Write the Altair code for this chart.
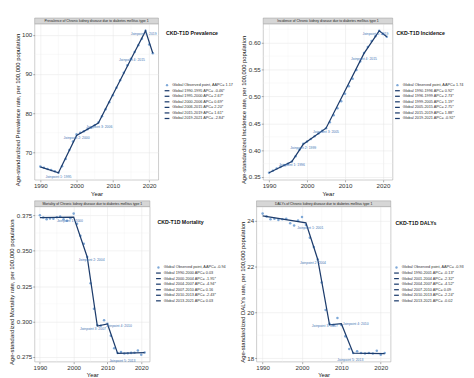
import altair as alt
import pandas as pd

FONT = "Liberation Sans"
LINE = "#1d3c6c"
PT = "#7fa9d8"
LBL = "#4677b5"

years = list(range(1990, 2022))
x_ticks = [1990, 2000, 2010, 2020]
x_minor = [1995, 2005, 2015]

# ---------------- Prevalence ----------------
prev_obs = [66.4, 66.1, 65.8, 65.5, 65.2, 64.8, 66.5, 68.3, 70.6, 72.8,
            74.6, 75.0, 75.4, 75.9, 76.3, 76.9, 77.6, 79.2, 81.0, 82.8,
            84.6, 86.5, 88.4, 90.3, 92.2, 93.9, 95.6, 97.3, 99.0, 101.0,
            97.5, 95.3]
prev_fit_years = [1990, 1995, 2000, 2006, 2015, 2019, 2021]
prev_fit = [66.3, 64.8, 74.3, 77.5, 93.8, 101.0, 95.3]
prev_ticks = [70, 80, 90, 100]
prev_minor = [65, 75, 85, 95]
prev_legend = ["Global Observed point, AAPC= 1.17",
               "Global 1990-1995 APC= -0.46*",
               "Global 1995-2000 APC= 2.67*",
               "Global 2000-2006 APC= 0.69*",
               "Global 2006-2015 APC= 2.20*",
               "Global 2015-2019 APC= 1.61*",
               "Global 2019-2021 APC= -2.84*"]

# ---------------- Incidence ----------------
inc_obs = [0.358, 0.362, 0.366, 0.369, 0.372, 0.375, 0.379, 0.389, 0.401, 0.412,
           0.416, 0.421, 0.426, 0.431, 0.436, 0.441, 0.452, 0.465, 0.478, 0.491,
           0.505, 0.519, 0.533, 0.549, 0.565, 0.581, 0.592, 0.603, 0.612, 0.622,
           0.616, 0.611]
inc_fit_years = [1990, 1996, 1999, 2005, 2015, 2019, 2021]
inc_fit = [0.358, 0.379, 0.411, 0.441, 0.580, 0.622, 0.611]
inc_ticks = [0.35, 0.40, 0.45, 0.50, 0.55, 0.60]
inc_minor = [0.375, 0.425, 0.475, 0.525, 0.575, 0.625]
inc_legend = ["Global Observed point, AAPC= 1.74",
              "Global 1990-1996 APC= 0.92*",
              "Global 1996-1999 APC= 2.73*",
              "Global 1999-2005 APC= 1.19*",
              "Global 2005-2015 APC= 2.75*",
              "Global 2015-2019 APC= 1.88*",
              "Global 2019-2021 APC= -0.92*"]

# ---------------- Mortality ----------------
mort_obs = [0.3750, 0.3735, 0.3722, 0.3728, 0.3726, 0.3737, 0.3741, 0.3722, 0.3712, 0.3730,
            0.3762, 0.3690, 0.3605, 0.3550, 0.3455, 0.3270, 0.3090, 0.2975, 0.2970, 0.3010,
            0.2985, 0.2900, 0.2812, 0.2778, 0.2785, 0.2774, 0.2776, 0.2779, 0.2780, 0.2795,
            0.2766, 0.2781]
mort_fit_years = [1990, 2000, 2004, 2007, 2010, 2013, 2021]
mort_fit = [0.3734, 0.3737, 0.3456, 0.2968, 0.2983, 0.2775, 0.2781]
mort_ticks = [0.275, 0.300, 0.325, 0.350, 0.375]
mort_minor = [0.2875, 0.3125, 0.3375, 0.3625]
mort_legend = ["Global Observed point, AAPC= -0.94",
               "Global 1990-2000 APC= 0.03",
               "Global 2000-2004 APC= -1.95*",
               "Global 2004-2007 APC= -4.94*",
               "Global 2007-2010 APC= 0.16",
               "Global 2010-2013 APC= -2.43*",
               "Global 2013-2021 APC= 0.03"]

# ---------------- DALYs ----------------
daly_obs = [24.30, 24.18, 24.05, 24.08, 24.02, 24.05, 24.08, 23.88, 23.78, 24.00,
            24.15, 23.80, 23.25, 22.85, 22.30, 21.30, 20.10, 19.50, 19.45, 19.75,
            19.45, 18.95, 18.40, 18.22, 18.30, 18.22, 18.20, 18.22, 18.20, 18.32,
            18.15, 18.22]
daly_fit_years = [1990, 2001, 2004, 2007, 2010, 2013, 2021]
daly_fit = [24.20, 23.90, 22.30, 19.45, 19.50, 18.22, 18.20]
daly_ticks = [18, 20, 22, 24]
daly_minor = [19, 21, 23]
daly_legend = ["Global Observed point, AAPC= -0.93",
               "Global 1990-2001 APC= -0.13*",
               "Global 2001-2004 APC= -2.32*",
               "Global 2004-2007 APC= -4.52*",
               "Global 2007-2010 APC= 0.09",
               "Global 2010-2013 APC= -2.24*",
               "Global 2013-2021 APC= -0.02"]


def plot_panel(strip_title, obs, fit_years, fit_vals, ytitle, yticks, yminor,
               fmt, W, H, offsets):
    allv = obs + fit_vals
    lo, hi = min(allv), max(allv)
    pad = 0.05 * (hi - lo)
    xs = alt.Scale(domain=[1988.45, 2022.55], nice=False, zero=False)
    ys = alt.Scale(domain=[lo - pad, hi + pad], nice=False, zero=False)

    xaxis = alt.Axis(values=x_ticks, format="d", title="Year",
                     labelOverlap=False, labelFlush=False, labelBound=False)
    yaxis = alt.Axis(values=yticks, format=fmt, title=ytitle,
                     labelOverlap=False, labelFlush=False, labelBound=False,
                     titleY=H / 2 + 8)
    xenc = alt.X("Year:Q", scale=xs, axis=xaxis)
    yenc = alt.Y("v:Q", scale=ys, axis=yaxis)

    df_obs = pd.DataFrame({"Year": years, "v": obs})
    df_fit = pd.DataFrame({"Year": fit_years, "v": fit_vals})

    vgrid = alt.Chart(pd.DataFrame({"Year": x_minor})).mark_rule(
        color="#f1f1f1", strokeWidth=0.4).encode(x=xenc)
    hgrid = alt.Chart(pd.DataFrame({"v": yminor})).mark_rule(
        color="#f1f1f1", strokeWidth=0.4).encode(y=yenc)

    line = alt.Chart(df_fit).mark_line(color=LINE, strokeWidth=1.3).encode(
        x=xenc, y=yenc)
    pts = alt.Chart(df_obs).mark_circle(color=PT, size=7, opacity=1).encode(
        x=xenc, y=yenc)

    layers = [vgrid, hgrid, pts, line]
    for i in range(1, 6):
        d = pd.DataFrame({"Year": [fit_years[i]], "v": [fit_vals[i]],
                          "t": ["Joinpoint %d: %d" % (i, fit_years[i])]})
        dx, dy = offsets[i - 1]
        layers.append(alt.Chart(d).mark_text(
            font=FONT, fontSize=3.6, color=LBL, baseline="middle",
            align="center", dx=dx, dy=dy).encode(x=xenc, y=yenc, text="t:N"))

    sd = pd.DataFrame({"t": [strip_title]})
    strip = alt.Chart(sd).mark_rect(fill="#d6d6d6", stroke="#9a9a9a",
                                    strokeWidth=0.5).encode(
        x=alt.value(0), x2=alt.value(W), y=alt.value(-6), y2=alt.value(0))
    strip_txt = alt.Chart(sd).mark_text(font=FONT, fontSize=3.6, color="#222",
                                        baseline="middle").encode(
        x=alt.value(W / 2), y=alt.value(-3), text="t:N")
    layers += [strip, strip_txt]
    return alt.layer(*layers).properties(
        width=W, height=H,
        view=alt.ViewBackground(stroke="#a8a8a8", strokeWidth=0.6))


def legend_panel(labels, title, W, H, x0, title_y):
    n = len(labels)
    df = pd.DataFrame({"label": labels, "idx": list(range(n))})
    ys = alt.Scale(domain=[0, n - 1], range=[H / 2 - 17.5, H / 2 + 17.5],
                   nice=False, zero=False)
    base = alt.Chart(df).encode(y=alt.Y("idx:Q", scale=ys, axis=None))
    txt = base.mark_text(font=FONT, fontSize=4, color="#333", align="left",
                         baseline="middle").encode(x=alt.value(x0 + 5.5),
                                                   text="label:N")
    pt = base.transform_filter("datum.idx == 0").mark_circle(
        color=PT, size=6, opacity=1).encode(x=alt.value(x0))
    ln = base.transform_filter("datum.idx > 0").mark_rule(
        color=LINE, strokeWidth=1.3).encode(x=alt.value(x0 - 2.5),
                                            x2=alt.value(x0 + 2.5))
    ttl = alt.Chart(pd.DataFrame({"t": [title]})).mark_text(
        font=FONT, fontSize=5.5, fontWeight="bold", color="#111",
        align="left", baseline="middle").encode(
        x=alt.value(x0 - 1), y=alt.value(title_y), text="t:N")
    return alt.layer(ln, pt, txt, ttl).properties(
        width=W, height=H, view=alt.ViewBackground(strokeOpacity=0))


H1, H2 = 164, 163

p1 = plot_panel("Prevalence of Chronic kidney disease due to diabetes mellitus type 1",
                prev_obs, prev_fit_years, prev_fit,
                "Age-standardized Prevalence rate, per 100,000 population",
                prev_ticks, prev_minor, "d", 130, H1,
                [(0, 4.5), (0, 3), (1, 4), (1, 0.5), (-2, 3)])
l1 = legend_panel(prev_legend, "CKD-T1D Prevalence", 85, H1, 8, 10)

p2 = plot_panel("Incidence of Chronic kidney disease due to diabetes mellitus type 1",
                inc_obs, inc_fit_years, inc_fit,
                "Age-standardized Incidence rate, per 100,000 population",
                inc_ticks, inc_minor, ".2f", 136, H1,
                [(0, 3.5), (0, 3.5), (0, 4), (0, 5.5), (-4, 3.7)])
l2 = legend_panel(inc_legend, "CKD-T1D Incidence", 76, H1, 4, 10)

p3 = plot_panel("Mortality of Chronic kidney disease due to diabetes mellitus type 1",
                mort_obs, mort_fit_years, mort_fit,
                "Age-standardized Mortality rate, per 100,000 population",
                mort_ticks, mort_minor, ".3f", 121, H2,
                [(-4, 4), (4.6, 3), (-4.6, 3.3), (12, 2.4), (5, 8)])
l3 = legend_panel(mort_legend, "CKD-T1D Mortality", 92, H2, 8, 16)

p4 = plot_panel("DALYs of Chronic kidney disease due to diabetes mellitus type 1",
                daly_obs, daly_fit_years, daly_fit,
                "Age-standardized DALYs rate, per 100,000 population",
                daly_ticks, daly_minor, "d", 141, H2,
                [(4.6, 5), (-5, 3.7), (-5, 1), (15, 0), (-3, 7)])
l4 = legend_panel(daly_legend, "CKD-T1D DALYs", 70, H2, 5, 17)

row1 = alt.hconcat(p1, l1, p2, l2, spacing=0)
row2 = alt.hconcat(p3, l3, p4, l4, spacing=0)

chart = alt.vconcat(row1, row2, spacing=3).properties(
    padding={"left": 0, "top": 0, "right": 0, "bottom": 0},
    autosize=alt.AutoSizeParams(type="pad"),
    background="white"
).configure_axis(
    labelFont=FONT, titleFont=FONT, labelFontSize=6.5, titleFontSize=6.2,
    labelColor="#333333", titleColor="#111111", titleFontWeight="normal",
    tickColor="#555555", tickSize=2, tickWidth=0.5, domain=False,
    gridColor="#e4e4e4", gridWidth=0.5, labelPadding=1, titlePadding=1.5
)

chart.save("out.html", embed_options={"renderer": "svg", "actions": False})
